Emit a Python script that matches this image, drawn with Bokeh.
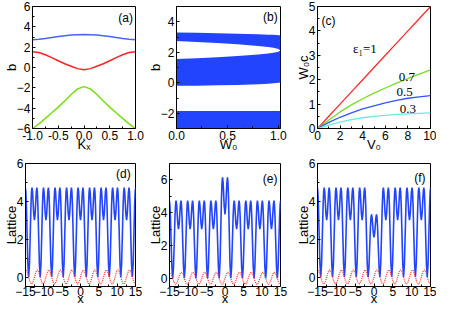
from bokeh.plotting import figure
from bokeh.layouts import column, row
from bokeh.models import Label, FixedTicker, Range1d, PrintfTickFormatter
from bokeh.embed import file_html
from bokeh.resources import INLINE

# ---------------- data ----------------
# (a) band structure b(Kx)
a_k = [-1.0, -0.875, -0.75, -0.625, -0.5, -0.375, -0.25, -0.125, 0.0,
       0.125, 0.25, 0.375, 0.5, 0.625, 0.75, 0.875, 1.0]
a_blue = [2.72, 2.77, 2.85, 2.95, 3.05, 3.13, 3.19, 3.23, 3.25,
          3.23, 3.19, 3.13, 3.05, 2.95, 2.85, 2.77, 2.72]
a_red = [1.55, 1.47, 1.25, 0.97, 0.66, 0.37, 0.13, -0.11, -0.22,
         -0.11, 0.13, 0.37, 0.66, 0.97, 1.25, 1.47, 1.55]
a_green = [-6.0, -5.55, -5.0, -4.45, -3.9, -3.3, -2.65, -2.1, -1.88,
           -2.1, -2.65, -3.3, -3.9, -4.45, -5.0, -5.55, -6.0]

# (b) band edges vs W0
b_w = [0.0, 0.2, 0.4, 0.6, 0.8, 0.9, 0.95, 1.0, 1.02]
b_band3_top = [3.30, 3.28, 3.25, 3.22, 3.18, 3.15, 3.14, 3.12, 3.11]
b_band3_bot = [2.73, 2.67, 2.60, 2.52, 2.41, 2.34, 2.29, 2.21, 2.12]
b_band2_top = [1.55, 1.60, 1.67, 1.75, 1.85, 1.91, 1.96, 2.03, 2.12]
b_band2_bot = [-0.20, -0.19, -0.17, -0.14, -0.10, -0.06, -0.03, 0.0, 0.02]
b_band1_top = [-1.85, -1.85, -1.85, -1.85, -1.85, -1.85, -1.85, -1.85, -1.85]
b_band1_bot = [-3.5, -3.5, -3.5, -3.5, -3.5, -3.5, -3.5, -3.5, -3.5]

# (c) threshold W0C vs V0
c_v0 = [0, 1, 2, 3, 4, 5, 6, 7, 8, 9, 10]
c_eps10 = [0.0, 0.5, 1.0, 1.5, 2.0, 2.5, 3.0, 3.5, 4.0, 4.5, 5.0]
c_eps07 = [0.0, 0.35, 0.68, 0.97, 1.22, 1.45, 1.66, 1.86, 2.05, 2.23, 2.40]
c_eps05 = [0.0, 0.25, 0.46, 0.64, 0.80, 0.93, 1.05, 1.15, 1.24, 1.30, 1.35]
c_eps03 = [0.0, 0.14, 0.26, 0.36, 0.44, 0.50, 0.54, 0.58, 0.60, 0.62, 0.64]

# (d)-(f) lattice: one cell profile (offset from cell centre)
cell_dx = [-1.571, -1.35, -1.15, -0.95, -0.8, -0.66, -0.5, -0.35, -0.2, 0.0,
           0.2, 0.35, 0.5, 0.66, 0.8, 0.95, 1.15, 1.35]
cell_regular = [0.0, 0.70, 2.20, 3.75, 4.50, 4.73, 4.47, 3.91, 3.35, 3.00,
                3.35, 3.91, 4.47, 4.73, 4.50, 3.75, 2.20, 0.70]
cell_defect_e = [0.0, 0.91, 2.86, 4.88, 5.85, 6.15, 5.81, 5.08, 4.36, 3.90,
                 4.36, 5.08, 5.81, 6.15, 5.85, 4.88, 2.86, 0.91]
cell_defect_f = [0.0, 0.49, 1.54, 2.63, 3.15, 3.31, 3.13, 2.74, 2.35, 2.10,
                 2.35, 2.74, 3.13, 3.31, 3.15, 2.63, 1.54, 0.49]
cell_centers = [-15.708, -12.566, -9.425, -6.283, -3.142, 0.0,
                3.142, 6.283, 9.425, 12.566, 15.708]
# imaginary part, one period (offset from cell start)
imag_dx = [0.0, 0.262, 0.524, 0.785, 1.047, 1.309, 1.571, 1.833, 2.094, 2.356, 2.618, 2.880]
imag_v = [0.0, 0.185, 0.32, 0.37, 0.32, 0.185, 0.0, -0.185, -0.32, -0.37, -0.32, -0.185]


def tile_real(defect):
    xs, ys = [], []
    for c in cell_centers:
        prof = defect if (defect is not None and c == 0.0) else cell_regular
        for dx, v in zip(cell_dx, prof):
            xs.append(c + dx)
            ys.append(v)
    xs.append(cell_centers[-1] + 1.571)
    ys.append(0.0)
    return xs, ys


def tile_imag():
    xs, ys = [], []
    for c in cell_centers:
        for dx, v in zip(imag_dx, imag_v):
            xs.append(c + dx)
            ys.append(v)
    return xs, ys


FONT = "Liberation Sans"
BLUE = "#2244ff"


def make_fig(w, h, xr, yr, bl, br, bt, bb, xlabel, ylabel, xticks, yticks, xminor, yminor,
             xstand, xlab_stand):
    p = figure(width=w, height=h, x_range=Range1d(*xr), y_range=Range1d(*yr),
               output_backend="svg", toolbar_location=None,
               min_border_left=bl, min_border_right=br,
               min_border_top=bt, min_border_bottom=bb)
    p.grid.visible = False
    p.outline_line_color = "black"
    p.outline_line_width = 1
    p.xaxis.ticker = FixedTicker(ticks=xticks, minor_ticks=xminor)
    p.yaxis.ticker = FixedTicker(ticks=yticks, minor_ticks=yminor)
    for ax in (p.xaxis[0], p.yaxis[0]):
        ax.major_tick_in = 3
        ax.major_tick_out = 0
        ax.minor_tick_in = 2
        ax.minor_tick_out = 0
        ax.major_label_text_font = FONT
        ax.major_label_text_font_size = "12px"
        ax.major_label_text_line_height = 0.8
        ax.major_label_text_color = "black"
        ax.axis_label_text_font = FONT
        ax.axis_label_text_font_size = "13px"
        ax.axis_label_text_line_height = 0.8
        ax.axis_label_text_font_style = "normal"
        ax.axis_label_text_color = "black"
        ax.axis_line_color = "black"
        ax.major_tick_line_color = "black"
        ax.minor_tick_line_color = "black"
    p.xaxis.major_label_standoff = xstand
    p.yaxis.major_label_standoff = 2
    p.xaxis.axis_label_standoff = xlab_stand
    p.yaxis.axis_label_standoff = -5
    p.xaxis.axis_label = xlabel
    p.yaxis.axis_label = ylabel
    return p


def panel_label(p, x, y, text, align="right"):
    p.add_layout(Label(x=x, y=y, text=text, text_align=align, text_baseline="top",
                       text_font=FONT, text_font_size="12px", text_color="black"))


H1 = 155   # top 6 + frame + bottom
H2 = 154   # top 8 + frame + bottom
WA, WB, WC = 144, 147, 145
LA, LB, LC = 21, 23, 26
RA, RB, RC = 9, 11, 6

# (a)
pa = make_fig(WA, H1, (-1, 1), (-6, 6), LA, RA, 6, 27, "Kₓ", "b",
              [-1, -0.5, 0, 0.5, 1], [-6, -4, -2, 0, 2, 4, 6],
              [-0.75, -0.25, 0.25, 0.75], [-5, -3, -1, 1, 3, 5], 2, -6)
pa.xaxis.formatter = PrintfTickFormatter(format="%.1f")
pa.line(a_k, a_blue, line_color="#4466ff", line_width=1.5)
pa.line(a_k, a_red, line_color="#ff2222", line_width=1.5)
pa.line(a_k, a_green, line_color="#77dd11", line_width=1.5)
panel_label(pa, 0.95, 5.6, "(a)")

# (b)
pb = make_fig(WB, H1, (0, 1.02), (-3, 5), LB, RB, 6, 27, "W₀", "b",
              [0, 0.5, 1.0], [-2, 0, 2, 4],
              [0.25, 0.75], [-3, -1, 1, 3, 5], 2, -6)
pb.xaxis.formatter = PrintfTickFormatter(format="%.1f")
pb.varea(x=b_w, y1=b_band1_bot, y2=b_band1_top, fill_color=BLUE)
pb.varea(x=b_w, y1=b_band2_bot, y2=b_band2_top, fill_color=BLUE)
pb.varea(x=b_w, y1=b_band3_bot, y2=b_band3_top, fill_color=BLUE)
panel_label(pb, 0.993, 4.74, "(b)")

# (c)
pc = make_fig(WC, H1, (0, 10), (0, 5), LC, RC, 6, 27, "V₀", "W₀c",
              [0, 2, 4, 6, 8, 10], [0, 1, 2, 3, 4, 5],
              [1, 3, 5, 7, 9], [0.5, 1.5, 2.5, 3.5, 4.5], 2, -6)
pc.line(c_v0, c_eps10, line_color="#ff2a2a", line_width=1.3)
pc.line(c_v0, c_eps07, line_color="#77dd22", line_width=1.3)
pc.line(c_v0, c_eps05, line_color="#3355ff", line_width=1.3)
pc.line(c_v0, c_eps03, line_color="#66eedd", line_width=1.3)
panel_label(pc, 0.35, 4.71, "(c)", align="left")
for tx, ty, tt in [(4.2, 3.26, "ε₁=1"), (7.9, 2.1, "0.7"), (7.7, 1.5, "0.5"), (8.0, 0.78, "0.3")]:
    pc.add_layout(Label(x=tx, y=ty, text=tt, text_align="center", text_baseline="middle",
                        text_font="Liberation Serif", text_font_size="13px", text_color="black"))

# (d)-(f)
imx, imy = tile_imag()


def lattice_fig(w, bl, br, yr, yticks, defect, lab, lx, ly):
    p = make_fig(w, H2, (-15, 15), yr, bl, br, 8, 23, "x", "Lattice",
                 [-15, -10, -5, 0, 5, 10, 15], yticks,
                 [-12.5, -7.5, -2.5, 2.5, 7.5, 12.5], [1, 3, 5], 0, -8)
    rx, ry = tile_real(defect)
    p.line(rx, ry, line_color=BLUE, line_width=1.6)
    p.line(imx, imy, line_color="#ff3030", line_width=1.2, line_dash="1 1")
    panel_label(p, lx, ly, lab)
    return p


pd_ = lattice_fig(WA, LA, RA, (-0.5, 6), [0, 2, 4, 6], None, "(d)", 13.7, 5.79)
pe = lattice_fig(WB, LB, RB, (-0.5, 7), [0, 2, 4, 6], cell_defect_e, "(e)", 14.2, 6.5)
pf = lattice_fig(WC, LC, RC, (-0.5, 6), [0, 2, 4, 6], cell_defect_f, "(f)", 13.7, 5.63)

layout = column(row(pa, pb, pc), row(pd_, pe, pf))
open("out.html", "w").write(file_html(layout, INLINE))
